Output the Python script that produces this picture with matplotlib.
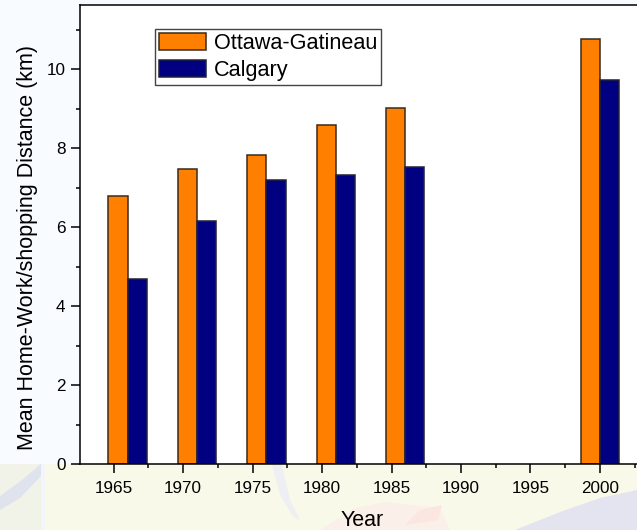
import numpy as np
import matplotlib
matplotlib.use('agg')
import matplotlib.pyplot as plt
from matplotlib.patches import Polygon, Rectangle
from matplotlib.ticker import MultipleLocator

plt.rcParams['font.family'] = ['Liberation Sans', 'DejaVu Sans']

tick_years = [1965, 1970, 1975, 1980, 1985, 1990, 1995, 2000]
survey_years = [1966, 1971, 1976, 1981, 1986, 2000]
ottawa = [6.8, 7.47, 7.82, 8.58, 9.02, 10.77]
calgary = [4.7, 6.15, 7.2, 7.33, 7.53, 9.72]
labels = ['Ottawa-Gatineau', 'Calgary']
W, H = 637, 530

fig = plt.figure(figsize=(W / 100, H / 100), dpi=100, facecolor='#f8fbff')


def px_rect(x0, y0, x1, y1, color, z=-4):
    # rectangle in image pixels, y measured from the top
    fig.add_artist(Rectangle((x0 / W, 1 - y1 / H), (x1 - x0) / W, (y1 - y0) / H,
                             transform=fig.transFigure, lw=0, color=color, zorder=z))


def px_poly(pts, color, z=-3):
    pts = [(a / W, 1 - b / H) for a, b in pts]
    fig.add_artist(Polygon(pts, transform=fig.transFigure, lw=0, color=color, zorder=z))


# washed out map behind the chart
px_rect(45, 464, 637, 530, '#f9f9ea')
px_rect(0, 464, 41, 530, '#f1f2e8')
px_rect(41, 464, 45, 530, '#f2f6fb')
px_poly([(0, 496), (22, 480), (41, 464), (41, 476), (20, 498), (0, 510)], '#dfe3ee')
px_poly([(272, 465), (282, 465), (290, 500), (300, 520), (294, 518), (280, 495)], '#eeeff2')
px_poly([(320, 530), (355, 508), (385, 502), (440, 508), (450, 530)], '#fbefe9')
px_poly([(405, 525), (420, 510), (442, 505), (438, 520)], '#fbe6e1')
px_poly([(515, 530), (560, 512), (600, 498), (637, 490), (637, 530)], '#e4e4f0')

# axes run past the right edge of the image, as in the reference
ax = fig.add_axes([80 / W, 1 - 464.3 / H, 570 / W, 459.3 / H], clip_on=False)
ax.set_xlim(1962.58, 2003.6)
ax.set_ylim(0, 11.63)

x = np.array(survey_years)
ax.bar(x - 0.685, ottawa, 1.37, color='#ff8000', edgecolor='#3a2a1a', linewidth=1.1, label=labels[0])
ax.bar(x + 0.685, calgary, 1.37, color='#000080', edgecolor='#22223a', linewidth=1.1, label=labels[1])

ax.set_xticks(tick_years)
ax.xaxis.set_minor_locator(MultipleLocator(5, offset=2.5))
ax.yaxis.set_major_locator(MultipleLocator(2))
ax.yaxis.set_minor_locator(MultipleLocator(1))
ax.tick_params(which='major', length=6.5, width=1.1, labelsize=12.3, pad=4)
ax.tick_params(axis='x', which='major', pad=5.5)
ax.tick_params(which='minor', length=3.2, width=1.1)
ax.set_xlabel('Year', fontsize=15.5, va='top')
ax.xaxis.set_label_coords(0.495, -0.1)
ax.set_ylabel('Mean Home-Work/shopping Distance (km)', fontsize=15.5, va='bottom')
ax.yaxis.set_label_coords(-0.074, 0.471)
for s in ax.spines.values():
    s.set_linewidth(1.1)

ax.legend(loc='upper left', bbox_to_anchor=((155 - 80) / 570, 1 - (29 - 5) / 459.3),
          fontsize=15.6, fancybox=False, framealpha=1, edgecolor='#444444',
          borderaxespad=0, handlelength=2.14, handleheight=0.84, labelspacing=0.25,
          handletextpad=0.37, borderpad=0.2)

fig.savefig('out.png', dpi=100, facecolor=fig.get_facecolor())
